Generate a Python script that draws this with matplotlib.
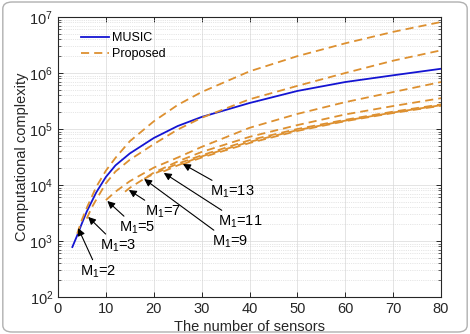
import matplotlib
matplotlib.use("Agg")
import matplotlib.pyplot as plt
from matplotlib.patches import FancyBboxPatch

plt.rcParams['font.family'] = ['Liberation Sans', 'DejaVu Sans']
plt.rcParams['mathtext.fontset'] = 'custom'
plt.rcParams['mathtext.rm'] = 'Liberation Sans'
plt.rcParams['mathtext.it'] = 'Liberation Sans:italic'
plt.rcParams['mathtext.default'] = 'regular'

# MUSIC
music_x = [3, 4, 5, 6, 8, 10, 12, 15, 20, 25, 30, 40, 50, 60, 70, 80]
music_y = [780, 1250, 2070, 3350, 7400, 13900, 22400, 36600, 69000, 113000,
           164000, 291000, 478000, 690000, 910000, 1190000]

# Proposed, one curve per M1
m1_2_x = [4, 5, 6, 8, 10, 12, 15, 20, 25, 30, 40, 50, 60, 70, 80]
m1_2_y = [1350, 2400, 3900, 9300, 18000, 30500, 60500, 137000, 269000,
          457000, 1070000, 2000000, 3390000, 5430000, 8150000]

m1_3_x = [6, 7, 8, 10, 12, 15, 20, 25, 30, 40, 50, 60, 70, 80]
m1_3_y = [2510, 3890, 5500, 10700, 17400, 28200, 53700, 97700, 158500,
          339000, 589000, 1000000, 1660000, 2540000]

m1_5_x = [10, 12, 15, 20, 25, 30, 40, 50, 60, 70, 80]
m1_5_y = [5370, 7590, 11700, 20400, 30900, 47900, 105000, 186000, 302000,
          457000, 690000]

m1_7_x = [14, 15, 20, 25, 30, 40, 50, 60, 70, 80]
m1_7_y = [7590, 8910, 16600, 26300, 38900, 72400, 117500, 182000, 257000, 355000]

m1_9_x = [18, 20, 25, 30, 40, 50, 60, 70, 80]
m1_9_y = [12900, 15800, 24000, 33900, 63100, 100000, 146000, 204000, 275000]

m1_11_x = [22, 25, 30, 40, 50, 60, 70, 80]
m1_11_y = [17400, 22400, 32400, 58900, 95500, 141000, 197000, 266000]

m1_13_x = [26, 30, 40, 50, 60, 70, 80]
m1_13_y = [23400, 30900, 56200, 92300, 138000, 193000, 260000]

proposed = [(m1_2_x, m1_2_y), (m1_3_x, m1_3_y), (m1_5_x, m1_5_y),
            (m1_7_x, m1_7_y), (m1_9_x, m1_9_y), (m1_11_x, m1_11_y),
            (m1_13_x, m1_13_y)]

# annotations: label, arrow head, text centre
labels = ['M$_1$=2', 'M$_1$=3', 'M$_1$=5', 'M$_1$=7', 'M$_1$=9', 'M$_1$=11', 'M$_1$=13']
heads = [(4.2, 1700), (6.3, 2690), (10.3, 5180), (14.8, 8150),
         (18.0, 12800), (22.1, 16400), (26.1, 23700)]
texts = [(8.4, 280), (12.5, 815), (16.5, 1700), (21.9, 3300),
         (35.9, 960), (38.0, 2180), (36.5, 7500)]

blue = '#1414d2'
orange = '#dd9030'
dark = '#262626'

fig = plt.figure(figsize=(4.7, 3.34), dpi=100)
ax = fig.add_axes([0.1234, 0.1108, 0.8150, 0.8383])

ax.plot(music_x, music_y, '-', color=blue, lw=1.3, label='MUSIC')
for i, (xs, ys) in enumerate(proposed):
    ax.plot(xs, ys, '--', color=orange, lw=1.3, dashes=(4.5, 2.8),
            label='Proposed' if i == 0 else None)

for lab, hd, tx in zip(labels, heads, texts):
    ax.annotate(lab, xy=hd, xytext=tx, fontsize=10.5, ha='center', va='center',
                arrowprops=dict(arrowstyle='-|>', color='black', lw=0.8,
                                mutation_scale=11, shrinkA=1, shrinkB=0))

ax.set_yscale('log')
ax.set_xlim(0, 80)
ax.set_ylim(1e2, 1e7)
ax.set_xticks(range(0, 81, 10))

ax.grid(True, which='major', color='#d9d9d9', lw=0.5, linestyle='-')
ax.grid(True, which='minor', axis='y', color='#cfcfcf', lw=0.5, linestyle=':')
ax.set_axisbelow(True)

ax.tick_params(which='both', direction='in', top=True, right=True,
               colors=dark, labelsize=10.5)
ax.tick_params(which='major', length=3.5, width=0.7)
ax.tick_params(which='minor', length=2, width=0.5)
for s in ax.spines.values():
    s.set_color(dark)
    s.set_linewidth(0.8)

ax.set_xlabel('The number of sensors', fontsize=10.5, color=dark, labelpad=3)
ax.set_ylabel('Computational complexity', fontsize=10.5, color=dark, labelpad=0)

ax.legend(loc='upper left', bbox_to_anchor=(0.03, 0.985), frameon=False,
          fontsize=9, handlelength=2.3, handletextpad=0.2, labelspacing=0.3)

frame = FancyBboxPatch((0.006, 0.006), 0.988, 0.988, boxstyle='round,pad=0,rounding_size=0.02',
                       transform=fig.transFigure, fill=False, ec='#b0b0b0', lw=1.0)
fig.patches.append(frame)

fig.savefig('out.png', dpi=100)
